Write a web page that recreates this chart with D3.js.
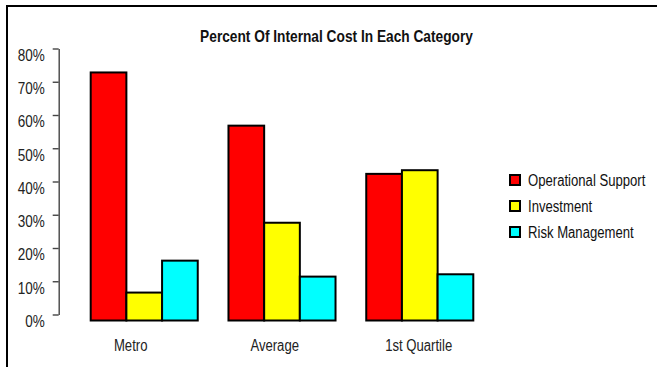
<!DOCTYPE html>
<html>
<head>
<meta charset="utf-8">
<script src="https://cdn.jsdelivr.net/npm/d3@7"></script>
<style>
  html, body { margin: 0; padding: 0; background: #fff; }
  svg { display: block; font-family: 'Liberation Sans', Arial, sans-serif; }
</style>
</head>
<body>
<div id="app"></div>
<script>
// Chart data (percent values).
const categories = ['Metro', 'Average', '1st Quartile'];
const seriesNames = ['Operational Support', 'Investment', 'Risk Management'];
const seriesColors = ['#ff0000', '#ffff00', '#00ffff'];
const operationalSupport = [74.6, 58.6, 44.1];
const investment = [8.4, 29.4, 45.2];
const riskManagement = [18.0, 13.2, 13.9];
const yTicks = [0, 10, 20, 30, 40, 50, 60, 70, 80];
const titleText = 'Percent Of Internal Cost In Each Category';

const seriesValues = [operationalSupport, investment, riskManagement];

// Layout
const svgWidth = 657;
const svgHeight = 367;
const axisX = 58.7;
const tickShift = -6; // axis line and tick marks sit a little above the labels in the original
const narrowScale = 0.82; // no narrow font installed, so squeeze Liberation Sans horizontally

// Squeeze text horizontally around its own anchor point.
function narrow(selection, k = narrowScale) {
  selection.each(function () {
    const t = d3.select(this);
    const x = +t.attr('x') || 0;
    const yPos = +t.attr('y') || 0;
    t.attr('x', 0).attr('y', 0).attr('transform', `translate(${x},${yPos}) scale(${k},1)`);
  });
}

const svg = d3.select('#app')
  .append('svg')
  .attr('width', svgWidth)
  .attr('height', svgHeight);

// frame: top and left edges only
svg.append('path')
  .attr('d', `M7,${svgHeight} V6 H${svgWidth}`)
  .attr('fill', 'none')
  .attr('stroke', '#000')
  .attr('stroke-width', 2);

svg.append('text')
  .attr('x', 336.5)
  .attr('y', 42)
  .attr('text-anchor', 'middle')
  .attr('font-weight', 'bold')
  .attr('font-size', 16)
  .attr('fill', '#111')
  .text(titleText)
  .call(narrow, 0.858);

const y = d3.scaleLinear().domain([0, 80]).range([320.5, 54.5]);

// groups of bars
const xGroups = d3.scaleBand()
  .domain(categories)
  .range([90.7, 473.3])
  .paddingInner(0.223);

const xSeries = d3.scaleBand()
  .domain(seriesNames)
  .range([0, xGroups.bandwidth()]);

// category label positions
const xLabels = d3.scaleBand()
  .domain(categories)
  .range([axisX, axisX + 432]);

// y axis
const yAxis = svg.append('g')
  .attr('transform', `translate(${axisX},0)`)
  .call(d3.axisLeft(y).tickValues(yTicks).tickFormat((d) => `${d}%`).tickSize(6).tickSizeOuter(0).tickPadding(8));

yAxis.attr('font-family', null).attr('font-size', null);
yAxis.select('.domain').attr('transform', `translate(0,${tickShift})`).attr('stroke', '#444').attr('stroke-width', 1.4);
yAxis.selectAll('.tick line').attr('transform', `translate(0,${tickShift})`).attr('stroke', '#444').attr('stroke-width', 1.4);
yAxis.selectAll('.tick text')
  .attr('font-size', 16.5)
  .attr('fill', '#222')
  .attr('dy', '0.36em')
  .call(narrow);

// bars
const groups = svg.append('g')
  .selectAll('g')
  .data(categories)
  .join('g')
  .attr('transform', (d) => `translate(${xGroups(d)},0)`);

groups.selectAll('rect')
  .data((cat, ci) => seriesNames.map((name, si) => ({ name, si, value: seriesValues[si][ci] })))
  .join('rect')
  .attr('x', (d) => xSeries(d.name))
  .attr('width', xSeries.bandwidth())
  .attr('y', (d) => y(d.value))
  .attr('height', (d) => y(0) - y(d.value))
  .attr('fill', (d) => seriesColors[d.si])
  .attr('stroke', '#000')
  .attr('stroke-width', 2);

// category labels
const xAxis = svg.append('g')
  .attr('transform', 'translate(0,350.7)')
  .call(d3.axisBottom(xLabels).tickSize(0).tickPadding(0));
xAxis.select('.domain').remove();
xAxis.attr('font-family', null).attr('font-size', null);
xAxis.selectAll('.tick text')
  .attr('dy', 0)
  .attr('font-size', 16)
  .attr('fill', '#222')
  .call(narrow);

// legend
const legend = svg.append('g')
  .selectAll('g')
  .data(seriesNames)
  .join('g')
  .attr('transform', (d, i) => `translate(510,${180 + i * 26})`);

legend.append('rect')
  .attr('x', 0)
  .attr('y', -5)
  .attr('width', 10)
  .attr('height', 10)
  .attr('fill', (d, i) => seriesColors[i])
  .attr('stroke', '#000')
  .attr('stroke-width', 2);

legend.append('text')
  .attr('x', 18)
  .attr('y', 0)
  .attr('dy', '0.36em')
  .attr('font-size', 16)
  .attr('fill', '#111')
  .text((d) => d)
  .call(narrow);
</script>
</body>
</html>
